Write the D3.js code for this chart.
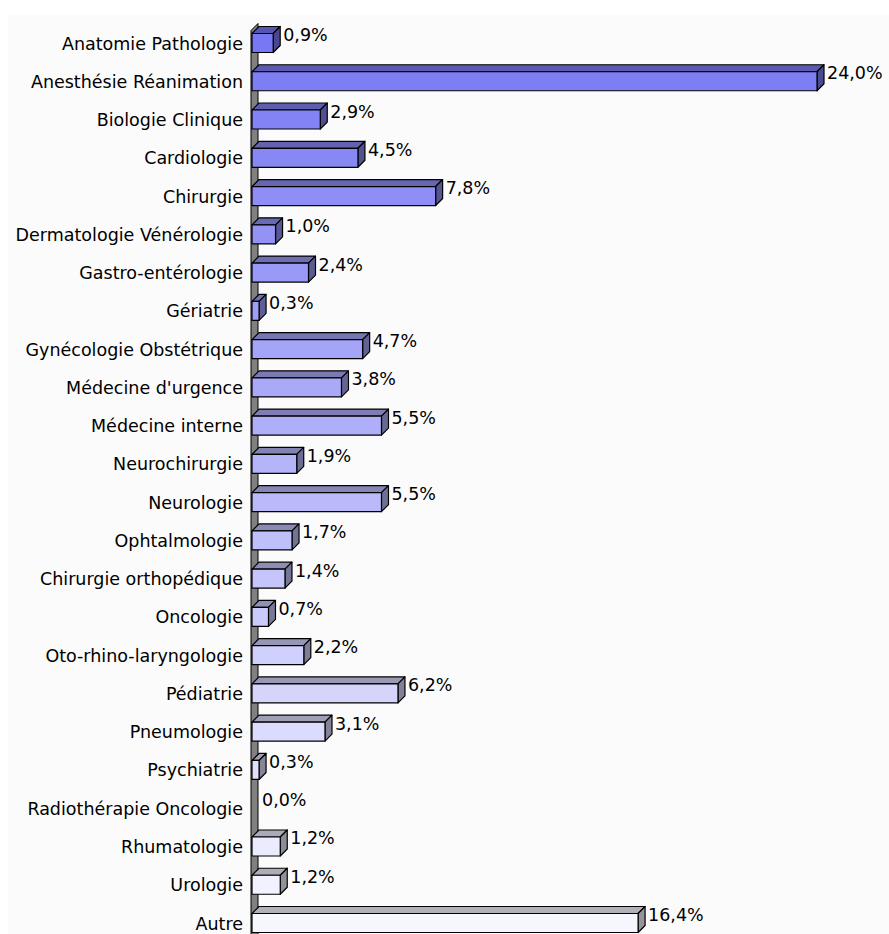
<!DOCTYPE html>
<html>
<head>
<meta charset="utf-8">
<script src="https://cdn.jsdelivr.net/npm/d3@7"></script>
<style>
  body { margin: 0; background: #fff; }
  text { font-family: "DejaVu Sans", sans-serif; font-size: 17.5px; fill: #000; }
</style>
</head>
<body>
<div id="chart"></div>
<script>
var categories = ["Anatomie Pathologie", "Anesthésie Réanimation", "Biologie Clinique", "Cardiologie",
  "Chirurgie", "Dermatologie Vénérologie", "Gastro-entérologie", "Gériatrie",
  "Gynécologie Obstétrique", "Médecine d'urgence", "Médecine interne", "Neurochirurgie",
  "Neurologie", "Ophtalmologie", "Chirurgie orthopédique", "Oncologie",
  "Oto-rhino-laryngologie", "Pédiatrie", "Pneumologie", "Psychiatrie",
  "Radiothérapie Oncologie", "Rhumatologie", "Urologie", "Autre"];

var values = [0.9, 24.0, 2.9, 4.5, 7.8, 1.0, 2.4, 0.3, 4.7, 3.8, 5.5, 1.9,
  5.5, 1.7, 1.4, 0.7, 2.2, 6.2, 3.1, 0.3, 0.0, 1.2, 1.2, 16.4];

var valueLabels = ["0,9%", "24,0%", "2,9%", "4,5%", "7,8%", "1,0%", "2,4%", "0,3%", "4,7%", "3,8%",
  "5,5%", "1,9%", "5,5%", "1,7%", "1,4%", "0,7%", "2,2%", "6,2%", "3,1%", "0,3%",
  "0,0%", "1,2%", "1,2%", "16,4%"];

var width = 889,
  height = 934,
  depth = 7,
  barH = 19;

var data = categories.map(function(c, i) {
  return {name: c, value: values[i], label: valueLabels[i], i: i};
});

var x = d3.scaleLinear()
  .domain([0, 24])
  .range([252, 817]);

var y = d3.scalePoint()
  .domain(categories)
  .range([43, 923]);

// front colour goes from blue (top) to almost white (bottom)
var colour = d3.scaleLinear()
  .domain([0, categories.length - 1])
  .range(["#7878f4", "#f6f6ff"])
  .interpolate(d3.interpolateRgb);

function shade(c, k) {
  var r = d3.rgb(c);
  return d3.rgb(r.r * k, r.g * k, r.b * k).toString();
}

var svg = d3.select("#chart").append("svg")
  .attr("width", width)
  .attr("height", height);

svg.append("rect")
  .attr("x", 8)
  .attr("y", 15)
  .attr("width", width - 8)
  .attr("height", height - 15)
  .attr("fill", "#fbfbfb");

// axis wall
var x0 = x(0) - 1;
svg.append("path")
  .attr("d", "M" + x0 + "," + (y.range()[0] - barH / 2 - 3) +
    "L" + (x0 + depth) + "," + (y.range()[0] - barH / 2 - 3 - depth) +
    "L" + (x0 + depth) + "," + (height + 5) +
    "L" + x0 + "," + (height + 5) + "Z")
  .attr("fill", "#808080")
  .attr("stroke", "#000")
  .attr("stroke-width", 1);

var bar = svg.selectAll(".bar")
  .data(data.filter(function(d) { return d.value > 0; }))
  .enter().append("g")
    .attr("class", "bar")
    .attr("stroke", "#000")
    .attr("stroke-width", 1.2)
    .attr("stroke-linejoin", "round");

// top face
bar.append("path")
  .attr("fill", function(d) { return shade(colour(d.i), 0.72); })
  .attr("d", function(d) {
    var x1 = x(0), x2 = x(d.value), t = y(d.name) - barH / 2;
    return "M" + x1 + "," + t + "L" + (x1 + depth) + "," + (t - depth) +
      "L" + (x2 + depth) + "," + (t - depth) + "L" + x2 + "," + t + "Z";
  });

// side face
bar.append("path")
  .attr("fill", function(d) { return shade(colour(d.i), 0.6); })
  .attr("d", function(d) {
    var x2 = x(d.value), t = y(d.name) - barH / 2;
    return "M" + x2 + "," + t + "L" + (x2 + depth) + "," + (t - depth) +
      "L" + (x2 + depth) + "," + (t - depth + barH) + "L" + x2 + "," + (t + barH) + "Z";
  });

// front face
bar.append("rect")
  .attr("x", x(0))
  .attr("y", function(d) { return y(d.name) - barH / 2; })
  .attr("width", function(d) { return x(d.value) - x(0); })
  .attr("height", barH)
  .attr("fill", function(d) { return colour(d.i); });

// category labels
svg.selectAll(".cat")
  .data(data)
  .enter().append("text")
    .attr("class", "cat")
    .attr("x", 243)
    .attr("y", function(d) { return y(d.name) + 6.5; })
    .attr("text-anchor", "end")
    .text(function(d) { return d.name; });

// value labels
svg.selectAll(".val")
  .data(data)
  .enter().append("text")
    .attr("class", "val")
    .attr("x", function(d) { return x(d.value) + depth + 3; })
    .attr("y", function(d) { return y(d.name) - 2; })
    .text(function(d) { return d.label; });
</script>
</body>
</html>
